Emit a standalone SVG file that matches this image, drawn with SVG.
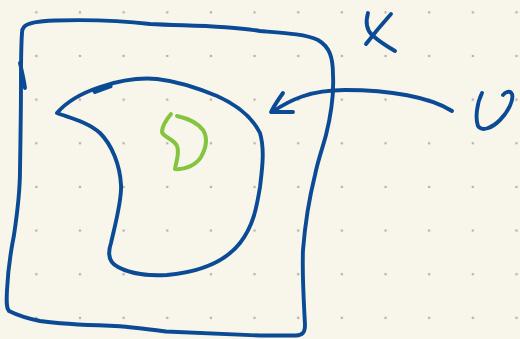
<svg xmlns="http://www.w3.org/2000/svg" width="520" height="339" viewBox="0 0 520 339">
<style>
.ink{fill:none;stroke:#0b4a94;stroke-width:3.9;stroke-linecap:round;stroke-linejoin:round}
.green{fill:none;stroke:#84c441;stroke-width:4;stroke-linecap:round;stroke-linejoin:round}
</style>
<defs>
<pattern id="dots" patternUnits="userSpaceOnUse" x="14.5" y="-9.5" width="43.65" height="43.65">
<circle cx="21.8" cy="21.8" r="1.3" fill="#b4b2aa"/>
</pattern>
</defs>
<rect width="520" height="339" fill="#f8f6eb"/>
<rect width="520" height="339" fill="url(#dots)"/>
<g id="X">
<path class="ink" d="M 24 27 C 27 23, 40 21, 55 20.5 C 90 19.5, 125 21, 150 24 C 185 26, 225 25, 260 31 C 285 33, 305 34, 318 40 C 330 47, 333 58, 333 75 C 334 95, 331 115, 326 135 C 322 150, 318 160, 315 175 C 310 195, 305 225, 303 250 C 302 275, 304 305, 305 325 C 305 333, 302 335, 296 335.5 L 260 335.5 C 225 334, 195 333, 166 331.5 C 140 328, 120 326, 110 325.7 C 85 325, 60 324, 40 321 C 25 318, 15 314, 9 311 C 6 308, 6.5 300, 7 290 C 8 270, 11 250, 14 235 C 17 215, 20 195, 20 170 C 20.5 140, 21 110, 21 80 C 21 60, 21.5 40, 22 33 C 22 30, 23 28, 24 27"/>
<path class="ink" d="M 20 63 C 22 72, 24 80, 25 88"/>
<path class="ink" d="M 368 13 C 366 20, 366 29, 372 35 C 380 42, 388 47, 395 51"/>
<path class="ink" d="M 391 14 C 382 24, 373 35, 366 44"/>
</g>
<g id="U">
<path class="ink" d="M 57 113 C 68 100, 85 92, 100 87 C 115 82, 135 77, 157 79 C 175 81, 200 89, 217 96 C 235 104, 252 117, 260 133 C 265 150, 262 170, 260 187 C 257 205, 254 225, 240 243 C 225 262, 200 272, 167 275 C 150 276, 130 274, 118 267 C 108 262, 108 252, 111 243 C 115 225, 122 200, 121 185 C 120 165, 112 145, 100 133 C 88 122, 70 118, 57 113 Z"/>
<path class="ink" d="M 95 91.5 L 110 86" style="stroke-width:5"/>
<path class="ink" d="M 482 93 C 477 103, 475 118, 478 126 C 482 132, 492 128, 500 120 C 508 112, 514 100, 512 94 C 510 90, 505 92, 503 95"/>
</g>
<g id="point">
<path class="green" d="M 171 114 C 166 120, 162 126, 162 132 C 163 137, 174 139, 177 146 C 180 153, 176 162, 175 169 C 185 170, 196 165, 201 157 C 206 148, 208 138, 203 130 C 197 122, 186 118, 177 116"/>
</g>
<g id="connectors">
<path class="ink" d="M 452 111 C 430 97, 390 90, 345 90 C 310 90, 290 100, 272 112"/>
<path class="ink" d="M 283 93 C 278 100, 274 106, 271 112 C 278 112, 286 112, 293 112"/>
</g>
</svg>
